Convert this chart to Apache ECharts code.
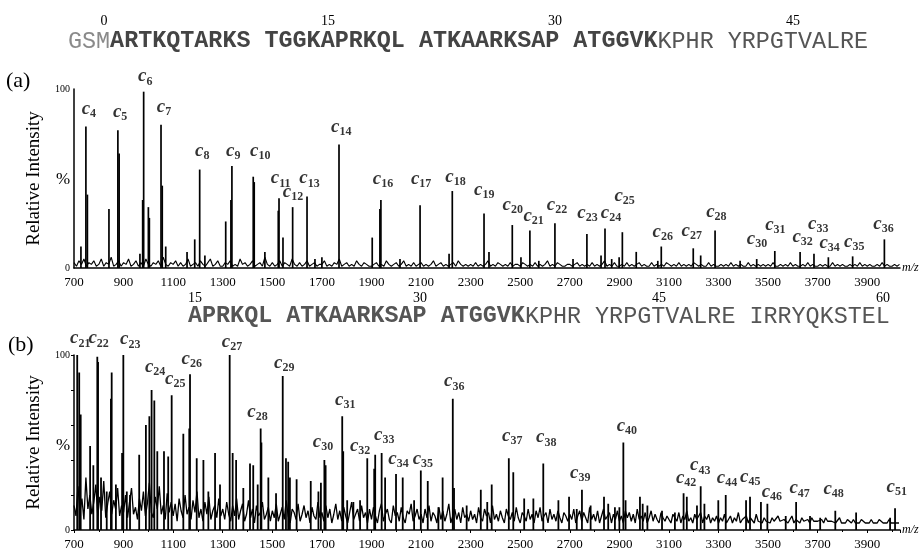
<!DOCTYPE html>
<html>
<head>
<meta charset="utf-8">
<script src="https://cdn.jsdelivr.net/npm/echarts@6/dist/echarts.min.js"></script>
<style>
  html, body { margin: 0; padding: 0; background: #fff; }
  #chart { width: 920px; height: 551px; }
</style>
</head>
<body>
<div id="chart"></div>
<script>
  // panel (a): labelled c-ion peaks and other sticks, [m/z, relative intensity]
  var peaksA = [
    [728, 12], [748, 79], [754, 41], [841, 33], [877, 77], [882, 64], [966, 8],
    [977, 38], [981, 98.5], [1000, 34], [1004, 28], [1051, 80], [1056, 46], [1070, 12],
    [1156, 9], [1187, 16], [1207, 55], [1228, 7], [1312, 26], [1333, 38], [1337, 57],
    [1423, 51], [1427, 48], [1470, 9], [1524, 32], [1527, 39], [1543, 17], [1582, 34],
    [1640, 40], [1672, 5], [1700, 6], [1769, 69], [1903, 17], [1934, 33], [1938, 38],
    [2015, 5], [2096, 35], [2213, 8], [2226, 43], [2354, 30.5], [2374, 9], [2468, 24],
    [2503, 6], [2539, 21], [2575, 4], [2640, 25], [2713, 5], [2769, 19], [2826, 7],
    [2842, 22], [2869, 5], [2899, 6], [2912, 20], [2968, 9], [3055, 4], [3069, 12],
    [3198, 11], [3228, 7], [3286, 21], [3387, 4], [3454, 5], [3527, 9.5], [3629, 9],
    [3685, 8], [3743, 6], [3841, 6.5], [3969, 16]
  ];
  // panel (a) baseline noise, one value every 10 m/z from 700
  var noiseA = [
    3, 1, 4, 2, 5, 1, 3, 2, 4, 1, 2, 5, 1, 3, 2, 6, 1, 2, 4, 1,
    3, 2, 5, 1, 2, 4, 1, 3, 1, 5, 2, 1, 3, 2, 4, 1, 6, 2, 1, 3,
    2, 4, 1, 3, 1, 2, 5, 1, 2, 3, 1, 4, 2, 1, 3, 5, 1, 2, 4, 1,
    1, 3, 2, 4, 1, 2, 1, 5, 2, 3, 1, 2, 4, 1, 2, 3, 1, 6, 2, 1,
    3, 1, 2, 4, 1, 3, 2, 1, 5, 2, 1, 3, 1, 2, 4, 1, 2, 3, 1, 2,
    2, 4, 1, 2, 1, 3, 2, 5, 1, 2, 3, 1, 2, 1, 4, 2, 1, 3, 2, 1,
    1, 2, 3, 1, 2, 1, 4, 2, 1, 2, 3, 1, 2, 4, 1, 2, 1, 3, 1, 2,
    3, 1, 2, 1, 2, 4, 1, 2, 3, 1, 2, 1, 2, 3, 1, 4, 2, 1, 2, 1,
    2, 1, 3, 1, 2, 1, 2, 4, 1, 2, 1, 3, 2, 1, 2, 1, 3, 1, 2, 2,
    1, 3, 2, 1, 2, 1, 3, 1, 2, 1, 2, 4, 1, 2, 1, 3, 2, 1, 1, 2,
    2, 1, 2, 3, 1, 2, 1, 2, 1, 3, 1, 2, 1, 2, 4, 1, 2, 1, 3, 1,
    1, 2, 1, 3, 1, 2, 1, 2, 3, 1, 2, 1, 1, 3, 1, 2, 1, 2, 1, 3,
    2, 1, 2, 1, 3, 1, 2, 1, 2, 1, 3, 2, 1, 2, 1, 1, 3, 1, 2, 1,
    1, 2, 1, 2, 1, 3, 1, 2, 1, 2, 1, 1, 3, 1, 2, 1, 2, 1, 2, 1,
    2, 1, 3, 1, 1, 2, 1, 2, 1, 3, 1, 2, 1, 1, 2, 1, 3, 1, 2, 1,
    1, 2, 1, 2, 1, 1, 3, 1, 2, 1, 2, 1, 1, 2, 1, 2, 1, 3, 1, 2,
    1, 2, 1, 1, 2, 1, 3, 1, 2, 1, 1, 2, 1, 2
  ];
  var labelsA = [
    ['4', 731, 89], ['5', 857, 87], ['6', 958, 107], ['7', 1034, 90], ['8', 1188, 65.5],
    ['9', 1313, 65.5], ['10', 1410, 65.5], ['11', 1494, 50], ['12', 1542, 42.3], ['13', 1609, 50],
    ['14', 1737, 78.6], ['16', 1905, 49.7], ['17', 2059, 49.7], ['18', 2198, 51], ['19', 2314, 43.6],
    ['20', 2429, 35.2], ['21', 2513, 29.1], ['22', 2607, 35], ['23', 2730, 30.9], ['24', 2825, 30.9],
    ['25', 2880, 40.2], ['26', 3034, 20.1], ['27', 3151, 20.8], ['28', 3250, 31.3], ['30', 3414, 16],
    ['31', 3488, 23.9], ['32', 3598, 17.5], ['33', 3661, 24.6], ['34', 3707, 13.8], ['35', 3806, 14.5],
    ['36', 3924, 24.6]
  ];

  // panel (b)
  var peaksB = [
    [713, 100], [721, 90], [727, 66], [765, 48], [778, 37], [794, 99], [797, 96], [809, 30],
    [832, 22], [849, 75], [852, 90], [869, 26], [894, 44], [899, 100], [913, 22], [926, 20],
    [963, 43], [990, 60], [1004, 65], [1013, 80], [1024, 74], [1036, 45], [1063, 45], [1080, 42],
    [1094, 77], [1141, 55], [1165, 58], [1168, 89], [1195, 41], [1222, 40], [1242, 22], [1269, 44],
    [1289, 26], [1328, 100], [1340, 44], [1354, 40], [1383, 24], [1410, 38], [1423, 37], [1441, 26],
    [1453, 58], [1456, 50], [1484, 30], [1515, 21], [1542, 88], [1555, 41], [1564, 39], [1571, 30],
    [1598, 29], [1655, 28], [1686, 22], [1696, 27], [1710, 40], [1715, 37], [1782, 65], [1786, 45],
    [1802, 17], [1827, 16], [1854, 17], [1883, 41], [1911, 35], [1915, 43], [1941, 44], [1955, 30],
    [1999, 32], [2026, 30], [2072, 17], [2099, 34], [2127, 28], [2170, 13], [2187, 30], [2228, 75],
    [2233, 24], [2284, 14], [2341, 23], [2367, 16], [2385, 26], [2454, 41], [2472, 33], [2516, 18],
    [2553, 18], [2593, 38], [2654, 17], [2697, 19], [2728, 12], [2749, 23], [2784, 14], [2838, 19],
    [2855, 15], [2882, 13], [2900, 13], [2916, 50], [2925, 17], [2983, 19], [2994, 15], [3013, 14],
    [3072, 11], [3124, 10], [3159, 21], [3172, 19], [3213, 14], [3228, 25], [3243, 15], [3299, 17],
    [3329, 20], [3411, 17], [3427, 19], [3471, 16], [3497, 15], [3571, 8], [3613, 16], [3669, 8],
    [3710, 7], [3771, 11], [3855, 10], [3992, 7], [4012, 12.5]
  ];
  // panel (b) noise floor, one value every 8 m/z from 700
  var noiseB = [
    14, 8, 25, 10, 18, 6, 30, 12, 20, 9, 16, 26, 8, 19, 11, 28, 7, 15, 22, 9, 17, 12, 24, 8, 14,
    10, 20, 7, 16, 24, 9, 13, 6, 18, 11, 22, 8, 15, 27, 10, 7, 19, 12, 25, 9, 14, 6, 21, 10, 16,
    8, 15, 5, 18, 11, 7, 20, 9, 13, 6, 17, 10, 22, 7, 12, 5, 16, 9, 19, 6, 11, 14, 7, 18, 8,
    12, 6, 16, 9, 5, 14, 8, 18, 6, 11, 15, 5, 9, 17, 7, 12, 4, 14, 8, 10, 16, 6, 9, 13, 5,
    11, 7, 15, 5, 9, 13, 6, 17, 8, 4, 12, 10, 6, 15, 5, 9, 14, 7, 11, 4, 13, 8, 6, 16, 7,
    10, 5, 14, 7, 12, 4, 9, 15, 6, 11, 5, 13, 8, 4, 10, 16, 6, 9, 12, 5, 14, 7, 10, 4, 12,
    6, 13, 8, 4, 11, 15, 5, 9, 12, 6, 4, 14, 8, 10, 5, 13, 7, 4, 11, 9, 15, 5, 8, 12, 6,
    9, 4, 12, 7, 14, 5, 10, 8, 4, 13, 6, 11, 5, 9, 15, 4, 8, 12, 6, 10, 4, 13, 7, 9, 5,
    11, 6, 9, 4, 13, 7, 5, 12, 8, 10, 4, 14, 6, 9, 5, 11, 7, 4, 12, 8, 6, 10, 5, 13, 7,
    4, 10, 8, 5, 12, 6, 9, 4, 11, 7, 13, 5, 8, 10, 4, 12, 6, 9, 5, 11, 7, 4, 10, 8, 5,
    9, 6, 12, 4, 8, 11, 5, 10, 7, 4, 13, 6, 9, 5, 11, 4, 8, 12, 6, 7, 10, 4, 9, 6, 11,
    5, 8, 4, 11, 7, 10, 5, 9, 4, 12, 6, 8, 5, 10, 4, 7, 11, 5, 9, 6, 4, 10, 7, 5, 8,
    6, 4, 9, 7, 5, 10, 4, 8, 6, 11, 5, 7, 4, 9, 6, 5, 10, 4, 8, 6, 9, 4, 7, 5, 8,
    4, 7, 5, 9, 4, 6, 8, 4, 7, 5, 10, 4, 6, 5, 8, 4, 7, 6, 4, 9, 5, 6, 4, 7, 5,
    6, 4, 7, 5, 4, 8, 5, 4, 6, 7, 4, 5, 8, 4, 6, 5, 4, 7, 5, 4, 6, 4, 7, 5, 4,
    5, 4, 6, 4, 7, 5, 4, 5, 6, 4, 5, 7, 4, 5, 4, 6, 5, 4, 6, 4, 5, 4, 6, 5, 4,
    5, 4, 6, 4, 5, 4, 6, 5, 4, 5, 4, 6, 4, 5, 4, 5, 4
  ];
  var labelsB = [
    ['21', 684, 109.4], ['22', 758, 109.4], ['23', 886, 108.9], ['24', 986, 93.1], ['25', 1067, 86.3],
    ['26', 1134, 97.6], ['27', 1296, 107.5], ['28', 1399, 67.4], ['29', 1507, 95.3], ['30', 1663, 50.1],
    ['31', 1753, 74.2], ['32', 1813, 48.2], ['33', 1910, 54.2], ['34', 1968, 40.7], ['35', 2066, 40.7],
    ['36', 2193, 84.9], ['37', 2427, 53.5], ['38', 2564, 52.9], ['39', 2701, 32.8], ['40', 2889, 59.2],
    ['42', 3128, 29.8], ['43', 3185, 36.9], ['44', 3293, 29.8], ['45', 3387, 30.3], ['46', 3474, 21.8],
    ['47', 3586, 23.7], ['48', 3723, 23.4], ['51', 3978, 24.7]
  ];

  var mzStart = 700, mzEnd = 4032, mzTick = 200;
  var seqTop = ['GSM', 'ARTKQTARKS TGGKAPRKQL ATKAARKSAP ATGGVK', 'KPHR YRPGTVALRE'];
  var seqTopNums = [['0', 104], ['15', 328], ['30', 555], ['45', 793]];
  var seqBottom = ['APRKQL ATKAARKSAP ATGGVK', 'KPHR YRPGTVALRE IRRYQKSTEL'];
  var seqBottomNums = [['15', 195], ['30', 420], ['45', 659], ['60', 883]];

  var serif = '"Liberation Serif", "Times New Roman", serif';
  var mono = '"Liberation Mono", "Courier New", monospace';

  function noiseLine(arr, step) {
    return arr.map(function (v, i) { return [mzStart + i * step, v]; });
  }

  function labelData(arr) {
    return arr.map(function (d) { return { value: [d[1], d[2]], sub: d[0] }; });
  }

  var labelStyle = {
    show: true,
    position: 'inside',
    align: 'left',
    verticalAlign: 'middle',
    formatter: function (p) { return '{c|c}{s|' + p.data.sub + '}'; },
    rich: {
      c: { fontFamily: serif, fontStyle: 'italic', fontWeight: 'bold', fontSize: 19, color: '#000', lineHeight: 22 },
      s: { fontFamily: serif, fontWeight: 'bold', fontSize: 12, color: '#000', lineHeight: 12, padding: [10, 0, 0, 0] }
    }
  };

  function xAxisFor(idx, ticks) {
    return {
      type: 'value', gridIndex: idx, min: mzStart, max: mzEnd, interval: mzTick,
      name: 'm/z', nameLocation: 'end', nameGap: 2,
      nameTextStyle: { fontFamily: serif, fontStyle: 'italic', fontSize: 12, color: '#000', padding: [14, 0, 0, 0] },
      splitLine: { show: false },
      axisLine: { lineStyle: { color: '#000', width: 1.5 } },
      axisTick: { show: ticks, length: 3, inside: false, lineStyle: { color: '#000' } },
      minorTick: { show: ticks, splitNumber: 2, length: 2, lineStyle: { color: '#000' } },
      axisLabel: {
        fontFamily: serif, fontSize: 13, color: '#000', margin: 8, showMaxLabel: false, showMinLabel: true,
        formatter: function (v) { return String(v); }
      }
    };
  }

  function yAxisFor(idx, ticks) {
    return {
      type: 'value', gridIndex: idx, min: 0, max: 100, interval: ticks ? 20 : 50,
      name: 'Relative Intensity', nameLocation: 'middle', nameGap: 30,
      nameTextStyle: { fontFamily: serif, fontSize: 19, color: '#000' },
      splitLine: { show: false },
      axisLine: { show: true, lineStyle: { color: '#000', width: 1.5 } },
      axisTick: { show: ticks, length: 3, lineStyle: { color: '#000' } },
      axisLabel: {
        fontFamily: serif, color: '#000', margin: 4,
        formatter: function (v) {
          if (v === 0) return '{t|0}';
          if (v === 100) return '{t|100}';
          return '';
        },
        rich: { t: { fontSize: 10, fontFamily: serif, color: '#000' } }
      }
    };
  }

  var chart = echarts.init(document.getElementById('chart'), null, { renderer: 'canvas' });

  var graphics = [
    { type: 'text', left: 6, top: 70, style: { text: '(a)', font: '22px ' + serif, fill: '#000' } },
    { type: 'text', left: 8, top: 334, style: { text: '(b)', font: '22px ' + serif, fill: '#000' } },
    { type: 'text', left: 56, top: 171, style: { text: '%', font: '17px ' + serif, fill: '#000' } },
    { type: 'text', left: 56, top: 437, style: { text: '%', font: '17px ' + serif, fill: '#000' } },
    {
      type: 'text', left: 68, top: 30,
      style: {
        text: '{g|' + seqTop[0] + '}{b|' + seqTop[1] + '}{n|' + seqTop[2] + '}',
        rich: {
          g: { font: '23.4px ' + mono, fill: '#8a8a8a' },
          b: { font: 'bold 23.4px ' + mono, fill: '#444' },
          n: { font: '23.4px ' + mono, fill: '#555' }
        }
      }
    },
    {
      type: 'text', left: 188, top: 305,
      style: {
        text: '{b|' + seqBottom[0] + '}{n|' + seqBottom[1] + '}',
        rich: {
          b: { font: 'bold 23.4px ' + mono, fill: '#555' },
          n: { font: '23.4px ' + mono, fill: '#555' }
        }
      }
    }
  ];
  seqTopNums.forEach(function (n) {
    graphics.push({ type: 'text', x: n[1], y: 21, style: { text: n[0], font: '14px ' + serif, fill: '#000', align: 'center', verticalAlign: 'middle' } });
  });
  seqBottomNums.forEach(function (n) {
    graphics.push({ type: 'text', x: n[1], y: 298, style: { text: n[0], font: '14px ' + serif, fill: '#000', align: 'center', verticalAlign: 'middle' } });
  });

  chart.setOption({
    animation: false,
    backgroundColor: '#fff',
    grid: [
      { left: 74, right: 20, top: 89, height: 179 },
      { left: 74, right: 20, top: 355, height: 177 }
    ],
    xAxis: [xAxisFor(0, false), xAxisFor(1, true)],
    yAxis: [yAxisFor(0, false), yAxisFor(1, true)],
    graphic: graphics,
    series: [
      {
        type: 'line', xAxisIndex: 0, yAxisIndex: 0, data: noiseLine(noiseA, 10),
        symbol: 'none', lineStyle: { color: '#000', width: 1.1 }, silent: true
      },
      {
        type: 'bar', xAxisIndex: 0, yAxisIndex: 0, data: peaksA, barWidth: 1.7,
        itemStyle: { color: '#000' }, silent: true
      },
      {
        type: 'scatter', xAxisIndex: 0, yAxisIndex: 0, data: labelData(labelsA),
        symbolSize: 0, clip: false, label: labelStyle, silent: true
      },
      {
        type: 'line', xAxisIndex: 1, yAxisIndex: 1, data: noiseLine(noiseB, 8),
        symbol: 'none', lineStyle: { color: '#000', width: 1.3 }, silent: true
      },
      {
        type: 'bar', xAxisIndex: 1, yAxisIndex: 1, data: peaksB, barWidth: 1.8,
        itemStyle: { color: '#000' }, silent: true
      },
      {
        type: 'scatter', xAxisIndex: 1, yAxisIndex: 1, data: labelData(labelsB),
        symbolSize: 0, clip: false, label: labelStyle, silent: true
      }
    ]
  });
</script>
</body>
</html>
